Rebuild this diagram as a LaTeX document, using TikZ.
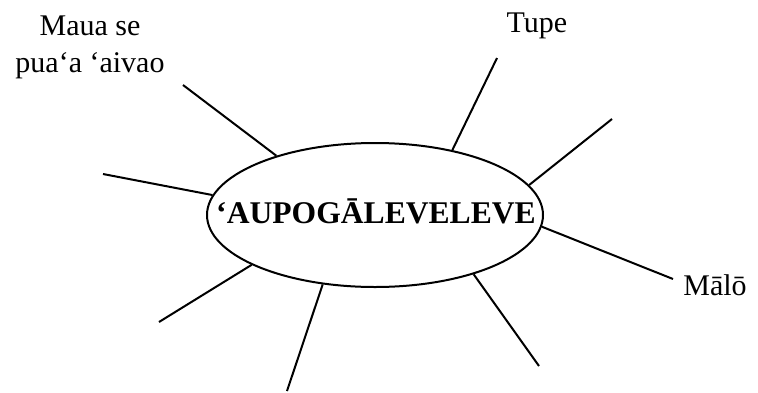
\documentclass[tikz,border=0pt]{standalone}
\usepackage{fontspec}
\setmainfont{Liberation Serif}
\usetikzlibrary{shapes.geometric}
\begin{document}
\begin{tikzpicture}[x=1pt,y=-1pt,
  spoke/.style={line width=2pt},
  lbl/.style={inner sep=0pt,font=\fontsize{30}{37}\selectfont},
  hub/.style={ellipse,draw,line width=2pt,minimum width=336,minimum height=144,inner sep=0pt}]
\useasboundingbox (0,0) rectangle (758,392);
\node[hub] (e) at (375,215) {};
\node[inner sep=0pt,anchor=base,font=\fontsize{31.6}{36}\selectfont\bfseries] (t) at (376,223) {‘AUPOGĀLEVELEVE};
\node[lbl,align=center,anchor=base] (l1) at (90,72) {Maua se\\pua‘a ‘aivao};
\node[lbl,anchor=base] (l2) at (537,32) {Tupe};
\node[lbl,anchor=base] (l3) at (715,295) {Mālō};
\coordinate (c1) at (183,85);
\coordinate (c2) at (497,58);
\coordinate (c3) at (612,119);
\coordinate (c4) at (673,279);
\coordinate (c5) at (103,174);
\coordinate (c6) at (159,322);
\coordinate (c7) at (287,391);
\coordinate (c8) at (539,366);
\draw[spoke] (c1) -- (e.149.5);
\draw[spoke] (c2) -- (e.40.3);
\draw[spoke] (c3) -- (e.11.6);
\draw[spoke] (c4) -- (e.-4.1);
\draw[spoke] (c5) -- (e.173.7);
\draw[spoke] (c6) -- (e.202);
\draw[spoke] (c7) -- (e.233.4);
\draw[spoke] (c8) -- (e.329.1);
\end{tikzpicture}
\end{document}
